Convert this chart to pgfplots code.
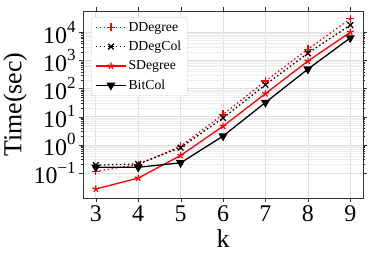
\documentclass[border=0pt]{standalone}
\usepackage{pgfplots}
\pgfplotsset{compat=1.18}
\usepackage{fontspec}
\setmainfont{Liberation Serif}
\newcommand{\pw}[1]{10\raisebox{0.45em}{\fontsize{17}{17}\selectfont #1}}
\begin{document}
\begin{tikzpicture}
\begin{axis}[
  at={(0,0)}, anchor=south west,
  scale only axis, width=280bp, height=187bp,
  xmin=2.7, xmax=9.3,
  ymode=log, ymin=0.013, ymax=57000,
  xtick={3,4,5,6,7,8,9},
  ytick={0.1,1,10,100,1000,10000},
  yticklabels={\pw{−1},\pw{0},\pw{1},\pw{2},\pw{3},\pw{4}},
  tick align=outside,
  tick style={color=black!80},
  major tick length=4bp, minor tick length=2.5bp,
  xticklabel style={font=\fontsize{24}{24}\selectfont},
  yticklabel style={font=\fontsize{24}{24}\selectfont},
  /pgf/number format/assume math mode=true,
  xlabel={k}, ylabel={Time(sec)},
  label style={font=\fontsize{26}{26}\selectfont},
  xlabel style={yshift=-1bp},
  ylabel style={yshift=0bp},
  grid=both,
  major grid style={color=black!13, line width=0.6pt},
  minor grid style={color=black!7, line width=0.5pt},
  axis line style={color=black!80, line width=0.8pt},
  legend cell align=left,
  legend style={at={(8/280,1-6/187)}, anchor=north west,
    font=\fontsize{13.8}{13.8}\selectfont,
    draw=black!20, rounded corners=2pt, fill=white,
    inner xsep=4bp, inner ysep=3bp, row sep=4.5bp},
  legend image code/.code={\draw[mark repeat=2,mark phase=2,#1] plot coordinates {(0bp,0bp) (15bp,0bp) (30bp,0bp)};},
  every axis plot/.append style={line width=1.3pt},
]
\addplot[red, dash pattern=on 1.5bp off 2.5bp, mark=+, mark size=4bp, mark options={solid}]
  coordinates {(3,0.115) (4,0.2) (5,0.9) (6,12) (7,185) (8,2500) (9,30000)};
\addlegendentry{DDegree}
\addplot[black, dash pattern=on 1.5bp off 2.5bp, mark=x, mark size=4bp, mark options={solid}]
  coordinates {(3,0.19) (4,0.21) (5,0.8) (6,9) (7,137) (8,1800) (9,18000)};
\addlegendentry{DDegCol}
\addplot[red, solid, mark=star, mark size=3.5bp, mark options={solid, line width=1.2pt}]
  coordinates {(3,0.027) (4,0.066) (5,0.42) (6,4.6) (7,66) (8,950) (9,10000)};
\addlegendentry{SDegree}
\addplot[black, solid, mark=triangle*, mark size=4bp, mark options={solid, rotate=180}]
  coordinates {(3,0.16) (4,0.16) (5,0.23) (6,2.05) (7,32) (8,490) (9,6300)};
\addlegendentry{BitCol}
\end{axis}
\useasboundingbox (-83bp,-64bp) rectangle (291bp,198bp);
\end{tikzpicture}
\end{document}
